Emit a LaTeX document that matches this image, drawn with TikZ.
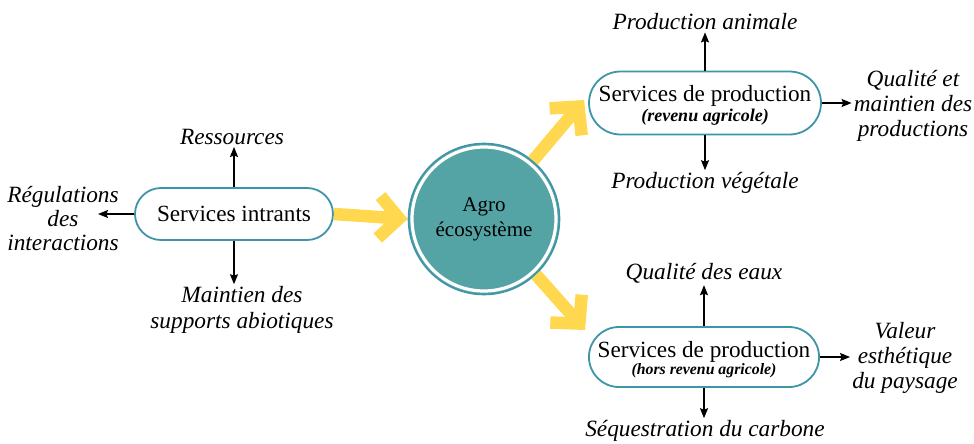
\documentclass[tikz,border=0pt]{standalone}
\usepackage{fontspec}
\setmainfont{Liberation Serif}
\newfontfamily\tnr{Liberation Serif}
\usetikzlibrary{arrows.meta,calc,shapes.misc}
\definecolor{tealfill}{RGB}{85,164,165}
\definecolor{tealline}{RGB}{62,148,168}
\definecolor{gold}{RGB}{255,216,80}
\newcommand\subtxt[2]{{\tnr\fontsize{#1}{#1}\selectfont\bfseries\itshape #2}}
\begin{document}
\begin{tikzpicture}[x=1pt,y=-1pt,
  pill/.style={shape=rounded rectangle, draw=tealline, line width=1.8pt, fill=white,
    inner sep=0pt, align=center, font=\tnr\fontsize{23.2}{20}\selectfont},
  lab/.style={font=\tnr\fontsize{23.3}{25}\selectfont\itshape, align=center, inner sep=2pt},
  arr/.style={-{Stealth[length=10pt,width=8pt,inset=1.5pt]}, line width=1.3pt},
  yarr/.style={draw=gold, line width=12.5pt, -{Straight Barb[length=20pt,width=42pt]}}
]
\useasboundingbox (0,0) rectangle (974,444);

% nodes
\node[pill, minimum width=198pt, minimum height=52pt] (si) at (234,214) {Services intrants};
\node[circle, minimum size=151pt, inner sep=0pt, draw=tealline, line width=1.6pt, fill=tealfill,
      align=center, font=\tnr\fontsize{21}{25}\selectfont] (eco) at (484,219) {Agro\\écosystème};
\draw[white, line width=3.2pt] (eco.center) circle (72pt);
\node[pill, minimum width=226pt, minimum height=63pt] (sp1) at (705,103)
  {\rule{0pt}{21.6pt}Services de production\\\subtxt{18}{(revenu agricole)}};
\node[pill, minimum width=228pt, minimum height=60pt, font=\tnr\fontsize{23.2}{17}\selectfont] (sp2) at (704,357)
  {\rule{0pt}{22pt}Services de production\\\subtxt{15.8}{(hors revenu agricole)}};

% labels
\node[lab] (ress) at (232,137) {Ressources};
\node[lab, font=\tnr\fontsize{23.3}{24}\selectfont\itshape] (reg) at (63,219) {Régulations\\des\\interactions};
\node[lab, font=\tnr\fontsize{23.3}{26}\selectfont\itshape] (maint) at (242,310) {Maintien des\\supports abiotiques};
\node[lab] (pa) at (705,22) {Production animale};
\node[lab] (pv) at (705,183) {Production végétale};
\node[lab] (qual) at (913,106) {Qualité et\\maintien des\\productions};
\node[lab] (qe) at (704,273) {Qualité des eaux};
\node[lab] (seq) at (705,431) {Séquestration du carbone};
\node[lab] (val) at (905,358) {Valeur\\esthétique\\du paysage};
\coordinate (regtip) at (98,214);

% black arrows
\draw[arr] (si.north) -- (si.north |- ress.south);
\draw[arr] (si.west) -- (regtip);
\draw[arr] (si.south) -- (si.south |- maint.north);
\draw[arr] (sp1.north) -- (sp1.north |- pa.south);
\draw[arr] (sp1.south) -- (sp1.south |- pv.north);
\draw[arr] (sp1.east) -- (sp1.east -| qual.west);
\draw[arr] (sp2.north) -- (sp2.north |- qe.south);
\draw[arr] (sp2.south) -- (sp2.south |- seq.north);
\draw[arr] (sp2.east) -- (sp2.east -| val.west);

% yellow arrows
\draw[yarr] (si.east) -- (eco.west);
\draw[yarr] (eco.50) -- ($(sp1.west)+(-4,-3)$);
\draw[yarr] (eco.-47) -- ($(sp2.west)+(-3,-27)$);
\end{tikzpicture}
\end{document}
